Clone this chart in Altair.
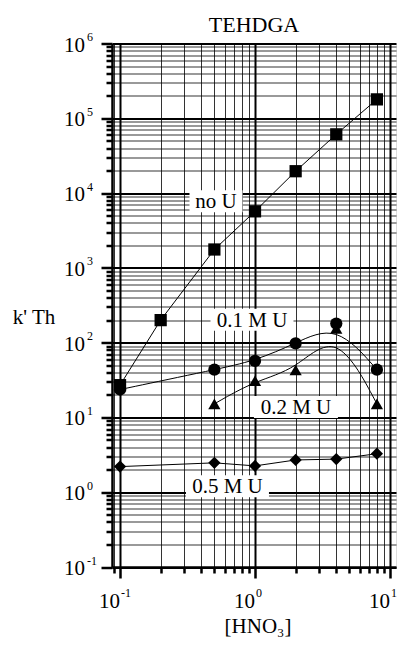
import altair as alt
import pandas as pd

# ---- data ----
hno3_noU = [0.1, 0.2, 0.5, 1, 2, 4, 8]
k_noU = [27, 200, 1760, 5700, 19600, 61000, 179000]
hno3_01 = [0.1, 0.5, 1, 2, 4, 8]
k_01 = [23.6, 43.5, 57, 98, 180, 43.5]
hno3_02 = [0.5, 1, 2, 4, 8]
k_02 = [15.2, 31, 43, 155, 15.2]
hno3_05 = [0.1, 0.5, 1, 2, 4, 8]
k_05 = [2.2, 2.47, 2.25, 2.7, 2.77, 3.27]

series_names = ["no U", "0.1 M U", "0.2 M U", "0.5 M U"]
series_shapes = ["square", "circle", "triangle-up", "diamond"]
label_x = [0.514, 0.95, 2.01, 0.625]
label_y = [7800, 202, 13.8, 1.2]

x_decades = [-1, 0, 1]
y_decades = [-1, 0, 1, 2, 3, 4, 5, 6]

chart_title = "TEHDGA"
y_title = "k' Th"
x_title = "[HNO₃]"

# ---- layout / style ----
W, H = 284, 523.5
FONT = "Liberation Serif"
box_w = [53, 83, 84, 83]
box_h = 22

rows = []
for name, xs, ys in [("no U", hno3_noU, k_noU), ("0.1 M U", hno3_01, k_01),
                     ("0.2 M U", hno3_02, k_02), ("0.5 M U", hno3_05, k_05)]:
    for a, b in zip(xs, ys):
        rows.append({"series": name, "hno3": a, "k": b})
df = pd.DataFrame(rows)

lab = pd.DataFrame({
    "text": series_names, "x": label_x, "y": label_y,
    "box": [f"M{-w / box_h:.3f},-1H{w / box_h:.3f}V1H{-w / box_h:.3f}Z" for w in box_w],
})

xticks = [0.09] + [m * 10.0 ** e for e in (-1, 0) for m in range(1, 10)] + [10]
yticks = [m * 10.0 ** e for e in range(-1, 6) for m in range(1, 10)] + [1e6]
MAJ = "abs(log(datum.value)/LN10 - round(log(datum.value)/LN10)) < 0.001"

xscale = alt.Scale(type="log", domain=[0.0872, 11.08], nice=False)
yscale = alt.Scale(type="log", domain=[0.1, 1e6], nice=False)


def axis(vals):
    return alt.Axis(
        values=vals, labels=False, title=None, grid=True,
        gridColor="black",
        gridWidth={"condition": {"test": MAJ, "value": 2}, "value": 1},
        gridOpacity={"condition": {"test": MAJ, "value": 1}, "value": 0.8},
        tickSize={"condition": {"test": MAJ, "value": 11}, "value": 6},
        tickWidth=2.5, tickColor="black",
        domainColor="black", domainWidth=2.5,
    )


X = alt.X("hno3:Q", scale=xscale, axis=axis(xticks))
Y = alt.Y("k:Q", scale=yscale, axis=axis(yticks))

base = alt.Chart(df)

lin = base.transform_filter(
    alt.FieldOneOfPredicate(field="series", oneOf=["no U", "0.5 M U"])
).mark_line(color="black", strokeWidth=1).encode(x=X, y=Y, detail="series:N")

smooth = base.transform_filter(
    alt.FieldOneOfPredicate(field="series", oneOf=["0.1 M U", "0.2 M U"])
).mark_line(color="black", strokeWidth=1, interpolate="basis").encode(
    x=X, y=Y, detail="series:N")

pts = base.mark_point(filled=True, color="black", opacity=1).encode(
    x=X, y=Y,
    shape=alt.Shape("series:N", scale=alt.Scale(domain=series_names, range=series_shapes), legend=None),
    size=alt.Size("series:N", scale=alt.Scale(domain=series_names, range=[150, 150, 200, 190]), legend=None),
)

boxes = alt.Chart(lab).mark_point(filled=True, color="white", opacity=1, size=box_h ** 2).encode(
    x=alt.X("x:Q", scale=xscale), y=alt.Y("y:Q", scale=yscale),
    shape=alt.Shape("box:N", scale=None),
)
labels = alt.Chart(lab).mark_text(font=FONT, fontSize=21, color="black", baseline="middle", dy=1).encode(
    x=alt.X("x:Q", scale=xscale), y=alt.Y("y:Q", scale=yscale), text="text:N"
)

# axis tick labels as 10 + superscript exponent
ylab = pd.DataFrame({"v": [10.0 ** e for e in y_decades], "base": ["10"] * len(y_decades),
                     "exp": [str(e) for e in y_decades]})
xlab = pd.DataFrame({"v": [10.0 ** e for e in x_decades], "base": ["10"] * len(x_decades),
                     "exp": [str(e) for e in x_decades]})

y10 = alt.Chart(ylab).mark_text(font=FONT, fontSize=21, align="right", baseline="alphabetic",
                                 dx=-27, dy=8).encode(
    x=alt.value(0), y=alt.Y("v:Q", scale=yscale), text="base:N")
yexp = alt.Chart(ylab).mark_text(font=FONT, fontSize=12, align="left", baseline="alphabetic",
                                  dx=-25, dy=-2.5).encode(
    x=alt.value(0), y=alt.Y("v:Q", scale=yscale), text="exp:N")
x10 = alt.Chart(xlab).mark_text(font=FONT, fontSize=21, align="right", baseline="alphabetic",
                                 dx=0, dy=41).encode(
    x=alt.X("v:Q", scale=xscale), y=alt.value(H), text="base:N")
xexp = alt.Chart(xlab).mark_text(font=FONT, fontSize=12, align="left", baseline="alphabetic",
                                  dx=1, dy=30).encode(
    x=alt.X("v:Q", scale=xscale), y=alt.value(H), text="exp:N")

texts = pd.DataFrame({"t": [chart_title, y_title, x_title], "role": ["title", "y", "x"]})
ttl = alt.Chart(texts).transform_filter("datum.role == 'title'").mark_text(
    font=FONT, fontSize=22, align="center", baseline="alphabetic").encode(
    x=alt.value(W / 2), y=alt.value(-11.5), text="t:N")
ytitle = alt.Chart(texts).transform_filter("datum.role == 'y'").mark_text(
    font=FONT, fontSize=21, align="center", baseline="middle").encode(
    x=alt.value(-78), y=alt.value(274), text="t:N")
xtitle = alt.Chart(texts).transform_filter("datum.role == 'x'").mark_text(
    font=FONT, fontSize=21, align="center", baseline="alphabetic").encode(
    x=alt.value(146), y=alt.value(H + 66), text="t:N")

chart = alt.layer(
    boxes, lin, smooth, pts, labels, y10, yexp, x10, xexp, ttl, ytitle, xtitle
).properties(
    width=W, height=H,
    padding={"left": 104, "top": 35.5, "right": 5, "bottom": 70},
    autosize="none",
).configure_view(
    stroke="black", strokeWidth=2.5
).configure(background="white")

chart.save("out.html", embed_options={"renderer": "svg", "actions": False})
